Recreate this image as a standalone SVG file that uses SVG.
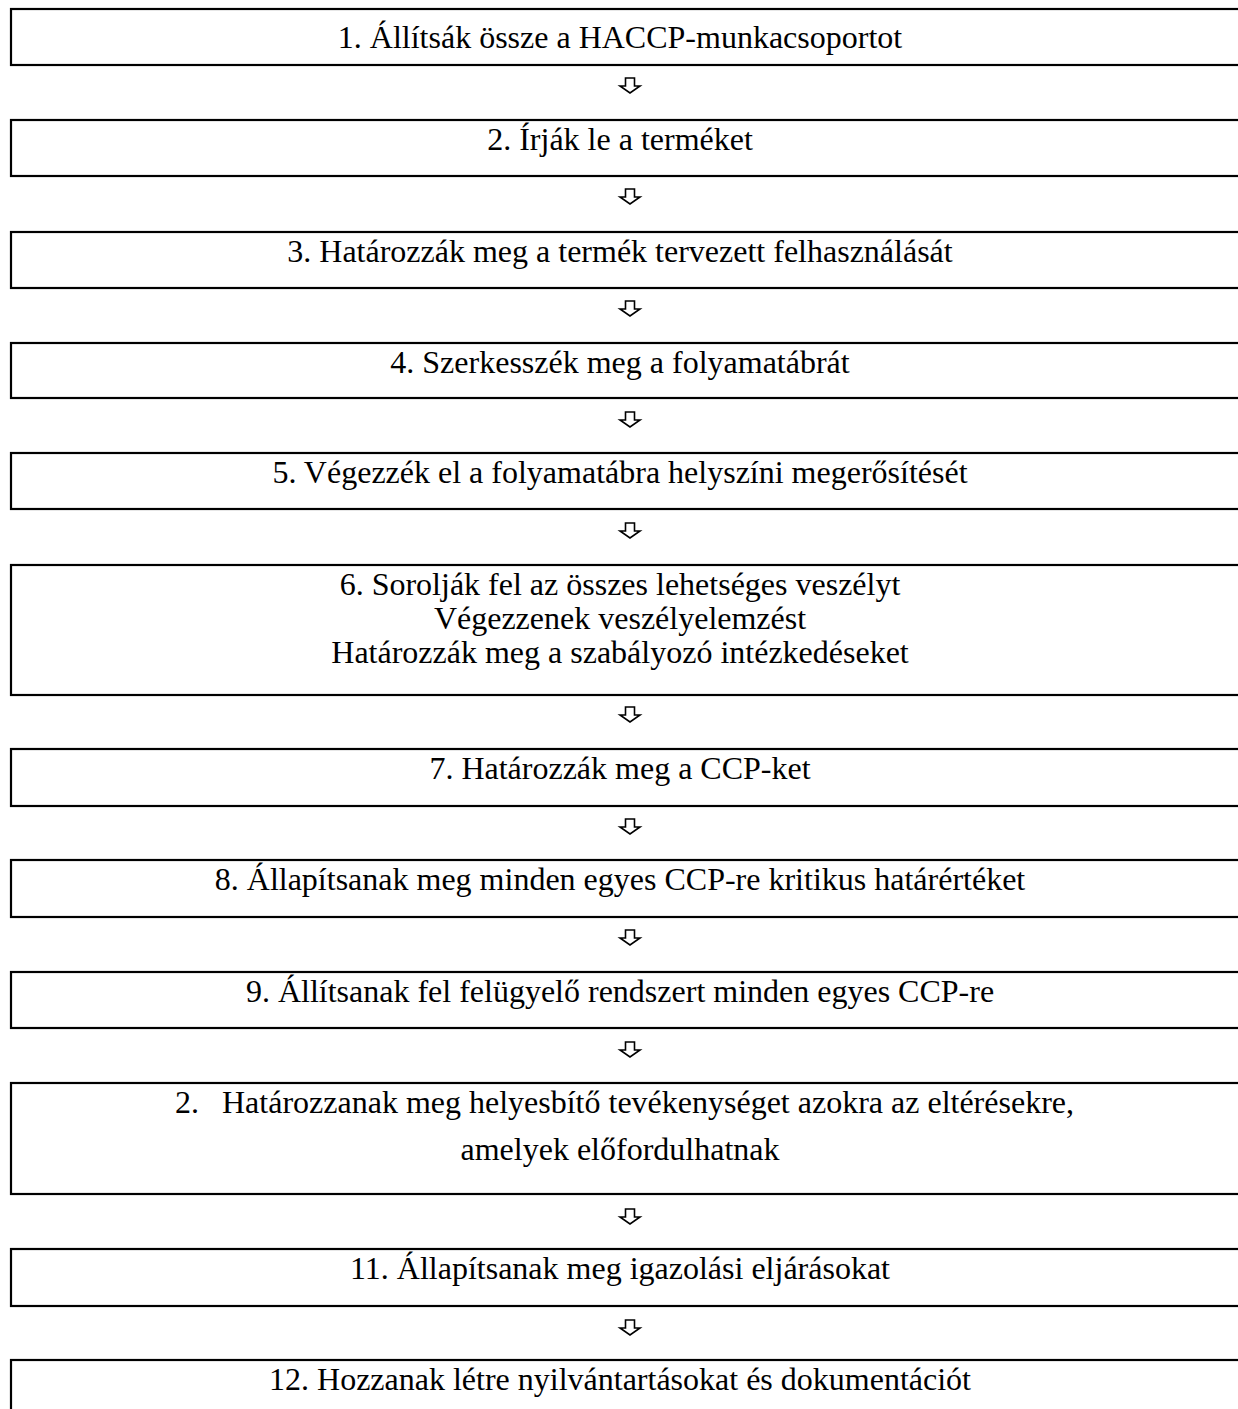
<svg xmlns="http://www.w3.org/2000/svg" width="1238" height="1409" viewBox="0 0 1238 1409">
<style>
.box{fill:#fff;stroke:#000;stroke-width:2.2}
.t{font-family:"Liberation Serif","Times New Roman",serif;font-size:32px;fill:#000;text-anchor:middle}
.ts{font-family:"Liberation Serif","Times New Roman",serif;font-size:32px;fill:#000;text-anchor:start}
.arr{fill:#fff;stroke:#000;stroke-width:1.6;stroke-linejoin:miter}
</style>
<defs>
<path id="dn" d="M-4.5,-7 L4.5,-7 L4.5,1 L10,1 L0,8 L-10,1 L-4.5,1 Z"/>
</defs>
<rect width="1238" height="1409" fill="#fff"/>
<g id="connectors">
<use href="#dn" class="arr" x="630" y="85"/>
<use href="#dn" class="arr" x="630" y="196"/>
<use href="#dn" class="arr" x="630" y="308"/>
<use href="#dn" class="arr" x="630" y="419"/>
<use href="#dn" class="arr" x="630" y="530"/>
<use href="#dn" class="arr" x="630" y="714"/>
<use href="#dn" class="arr" x="630" y="826"/>
<use href="#dn" class="arr" x="630" y="937"/>
<use href="#dn" class="arr" x="630" y="1049"/>
<use href="#dn" class="arr" x="630" y="1216"/>
<use href="#dn" class="arr" x="630" y="1327"/>
</g>
<g id="n1"><rect class="box" x="11" y="9" width="1240" height="56"/><text class="t" x="620" y="48">1. Állítsák össze a HACCP-munkacsoportot</text></g>
<g id="n2"><rect class="box" x="11" y="120" width="1240" height="56"/><text class="t" x="620" y="150">2. Írják le a terméket</text></g>
<g id="n3"><rect class="box" x="11" y="232" width="1240" height="56"/><text class="t" x="620" y="262">3. Határozzák meg a termék tervezett felhasználását</text></g>
<g id="n4"><rect class="box" x="11" y="343" width="1240" height="55"/><text class="t" x="620" y="373">4. Szerkesszék meg a folyamatábrát</text></g>
<g id="n5"><rect class="box" x="11" y="453" width="1240" height="56"/><text class="t" x="620" y="483">5. Végezzék el a folyamatábra helyszíni megerősítését</text></g>
<g id="n6"><rect class="box" x="11" y="565" width="1240" height="130"/>
<text class="t" x="620" y="595">6. Sorolják fel az összes lehetséges veszélyt</text>
<text class="t" x="620" y="629">Végezzenek veszélyelemzést</text>
<text class="t" x="620" y="663">Határozzák meg a szabályozó intézkedéseket</text></g>
<g id="n7"><rect class="box" x="11" y="749" width="1240" height="57"/><text class="t" x="620" y="779">7. Határozzák meg a CCP-ket</text></g>
<g id="n8"><rect class="box" x="11" y="860" width="1240" height="57"/><text class="t" x="620" y="890">8. Állapítsanak meg minden egyes CCP-re kritikus határértéket</text></g>
<g id="n9"><rect class="box" x="11" y="972" width="1240" height="56"/><text class="t" x="620" y="1002">9. Állítsanak fel felügyelő rendszert minden egyes CCP-re</text></g>
<g id="n10"><rect class="box" x="11" y="1083" width="1240" height="111"/>
<text class="ts" y="1113"><tspan x="175">2.</tspan><tspan x="222">Határozzanak meg helyesbítő tevékenységet azokra az eltérésekre,</tspan></text>
<text class="t" x="620" y="1160">amelyek előfordulhatnak</text></g>
<g id="n11"><rect class="box" x="11" y="1249" width="1240" height="57"/><text class="t" x="620" y="1279">11. Állapítsanak meg igazolási eljárásokat</text></g>
<g id="n12"><rect class="box" x="11" y="1360" width="1240" height="80"/><text class="t" x="620" y="1390">12. Hozzanak létre nyilvántartásokat és dokumentációt</text></g>
</svg>
